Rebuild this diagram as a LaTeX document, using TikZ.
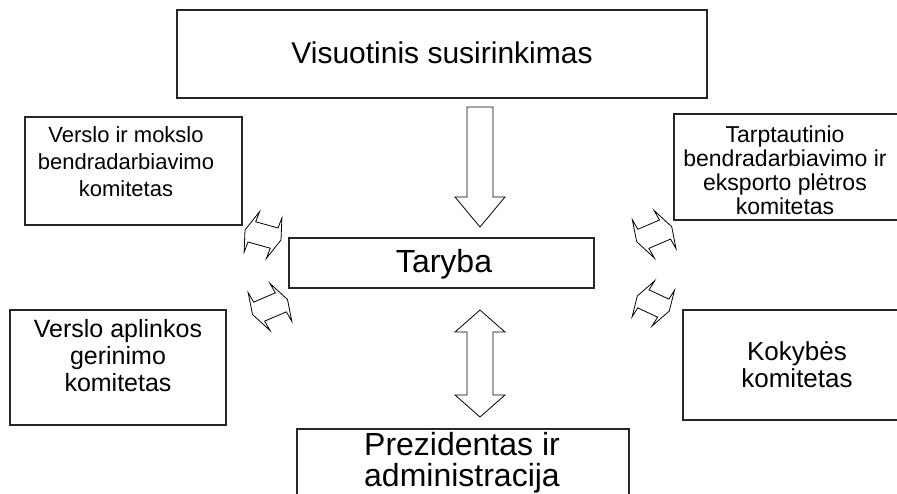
\documentclass[tikz,border=0pt]{standalone}
\usepackage{fontspec}
\setmainfont{Liberation Sans}
\begin{document}
\begin{tikzpicture}[x=1pt,y=-1pt,
  box/.style={draw=black!85, line width=1.2pt, inner sep=0pt},
  blk/.style={draw=black, line width=0.8pt, fill=white, line join=miter},
  txt/.style={align=center, inner sep=0pt}]
\useasboundingbox[fill=white] (0,0) rectangle (897,494);
% boxes
\node[box, minimum width=530pt, minimum height=88pt] (vs) at (442,54) {};
\node[box, minimum width=217pt, minimum height=108pt] (vm) at (133.5,171) {};
\node[box, minimum width=224pt, minimum height=106pt] (tb) at (786,167) {};
\node[box, minimum width=305pt, minimum height=50pt] (ta) at (441.5,263) {};
\node[box, minimum width=216pt, minimum height=115pt] (va) at (118,367.5) {};
\node[box, minimum width=215pt, minimum height=110pt] (kk) at (790.5,365) {};
\node[box, minimum width=332pt, minimum height=90pt] (pa) at (463,474) {};
% texts
\node[txt, font=\fontsize{30}{30}\selectfont] (vst) at (442,53) {Visuotinis susirinkimas};
\node[txt, font=\fontsize{22}{27}\selectfont] (vmt) at (126,162) {Verslo ir mokslo\\bendradarbiavimo\\komitetas};
\node[txt, font=\fontsize{23}{24}\selectfont] (tbt) at (785,170) {Tarptautinio\\bendradarbiavimo ir\\eksporto plėtros\\komitetas};
\node[txt, font=\fontsize{32}{32}\selectfont] (tat) at (444,264) {Taryba};
\node[txt, font=\fontsize{25}{27}\selectfont] (vat) at (118,356) {Verslo aplinkos\\gerinimo\\komitetas};
\node[txt, font=\fontsize{26}{27}\selectfont] (kkt) at (797,364.5) {Kokybės\\komitetas};
\node[txt, font=\fontsize{32}{31}\selectfont] (pat) at (462,462.5) {Prezidentas ir\\administracija};
% vertical block arrows
\draw[blk] (467,107) -- (493,107) -- (493,197) -- (505,197) -- (480,227) -- (455,197) -- (467,197) -- cycle;
\draw[blk] (480,310) -- (505,332) -- (493,332) -- (493,395) -- (505,395) -- (480,417) -- (455,395) -- (467,395) -- (467,332) -- (455,332) -- cycle;
% slanted double arrows
\begin{scope}[shift={(263,235)}, x={(18pt,-5pt)}, y={(-7.75pt,-20.25pt)}]
\draw[blk] (-1,0) -- (-0.62,-1) -- (-0.62,-0.5) -- (0.62,-0.5) -- (0.62,-1) -- (1,0) -- (0.62,1) -- (0.62,0.5) -- (-0.62,0.5) -- (-0.62,1) -- cycle;
\end{scope}
\begin{scope}[shift={(270,307)}, x={(17.5pt,7.5pt)}, y={(11pt,-19pt)}]
\draw[blk] (-1,0) -- (-0.62,-1) -- (-0.62,-0.5) -- (0.62,-0.5) -- (0.62,-1) -- (1,0) -- (0.62,1) -- (0.62,0.5) -- (-0.62,0.5) -- (-0.62,1) -- cycle;
\end{scope}
\begin{scope}[shift={(654.2,234.2)}, x={(17.5pt,7.5pt)}, y={(11pt,-19.1pt)}]
\draw[blk] (-1,0) -- (-0.62,-1) -- (-0.62,-0.5) -- (0.62,-0.5) -- (0.62,-1) -- (1,0) -- (0.62,1) -- (0.62,0.5) -- (-0.62,0.5) -- (-0.62,1) -- cycle;
\end{scope}
\begin{scope}[shift={(653.3,303.5)}, x={(16pt,-7.5pt)}, y={(-11.3pt,-18pt)}]
\draw[blk] (-1,0) -- (-0.62,-1) -- (-0.62,-0.5) -- (0.62,-0.5) -- (0.62,-1) -- (1,0) -- (0.62,1) -- (0.62,0.5) -- (-0.62,0.5) -- (-0.62,1) -- cycle;
\end{scope}
\end{tikzpicture}
\end{document}
